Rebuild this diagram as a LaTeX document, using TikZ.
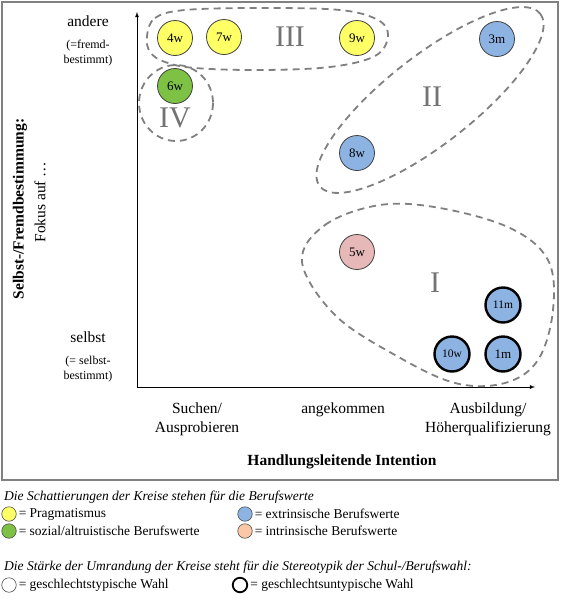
\documentclass[tikz,border=0pt]{standalone}
\usepackage{fontspec}
\setmainfont{Liberation Serif}
\usepackage{xcolor}
\usetikzlibrary{positioning}

\definecolor{pragcol}{HTML}{FFFF66}
\definecolor{sozcol}{HTML}{7DC244}
\definecolor{extcol}{HTML}{8DB3E2}
\definecolor{intcol}{HTML}{E6B9B8}
\definecolor{intlgd}{HTML}{FAC8A6}
\definecolor{grenze}{HTML}{808080}
\definecolor{roemisch}{HTML}{737373}

\begin{document}
\begin{tikzpicture}[x=1pt, y=-1pt,
  node distance=0mm,
  wert/.style={circle, draw=black!75, line width=0.8pt, minimum size=35pt, inner sep=0pt, font=\fontsize{13}{13}\selectfont},
  untyp/.style={draw=black, line width=2.4pt},
  zone/.style={draw=grenze, line width=1.8pt, dash pattern=on 7pt off 5pt},
  roman/.style={text=roemisch, font=\fontsize{30}{30}\selectfont},
  lbl/.style={font=\fontsize{15.5}{19}\selectfont, align=center},
  sublbl/.style={font=\fontsize{12}{15}\selectfont, align=center},
  lgd/.style={circle, draw=black!70, line width=0.6pt, minimum size=14.5pt, inner sep=0pt},
  ltext/.style={inner sep=1pt, font=\fontsize{13.5}{16}\selectfont}
]
\useasboundingbox (0,0) rectangle (561,600);
\draw[grenze, line width=1.5pt] (2,2) rectangle (558,480);

% Achsen
\coordinate (o) at (137,387);
\coordinate (ytop) at (137,12);
\coordinate (xend) at (535,387);
\draw[->, >=latex, line width=0.8pt] (o) -- (ytop);
\draw[->, >=latex, line width=0.8pt] (o) -- (xend);

% Bereiche
\draw[zone] plot[smooth cycle, tension=0.6] coordinates {(147,36) (155,18) (185,10) (260,8) (340,10) (378,20) (388,36) (375,56) (330,67) (260,70) (195,68) (165,62) (150,52)};
\draw[zone] (176,103) ellipse [x radius=37, y radius=38];
\draw[zone, rotate around={38:(430,100)}] (430,100) ellipse [x radius=140, y radius=44];
\draw[zone] plot[smooth cycle, tension=0.6] coordinates {(302,262) (325,225) (380,205) (440,208) (510,228) (548,260) (553,310) (538,360) (505,383) (455,383) (395,355) (335,315)};

\node[roman] (r3) at (290,37) {III};
\node[roman] (r2) at (432,97) {II};
\node[roman] (r1) at (435,283) {I};
\node[roman] (r4) at (175,118) {IV};

% Kreise
\node[wert, fill=pragcol] (w4) at (175,38) {4w};
\node[wert, fill=pragcol] (w7) at (224,37) {7w};
\node[wert, fill=pragcol] (w9) at (357,38) {9w};
\node[wert, fill=extcol] (m3) at (497,39) {3m};
\node[wert, fill=sozcol] (w6) at (175,86) {6w};
\node[wert, fill=extcol] (w8) at (357,153) {8w};
\node[wert, fill=intcol] (w5) at (357,252) {5w};
\node[wert, untyp, fill=extcol, font=\fontsize{11.5}{11.5}\selectfont] (m11) at (503,305) {11m};
\node[wert, untyp, fill=extcol, font=\fontsize{11.5}{11.5}\selectfont] (w10) at (452,354) {10w};
\node[wert, untyp, fill=extcol] (m1) at (503,354) {1m};

% Achsenbeschriftung
\node[lbl] (andere) at (88,21) {andere};
\node[sublbl] (fremd) at (88,53) {(=fremd-\\bestimmt)};
\node[lbl] (selbst) at (88,337) {selbst};
\node[sublbl] (sbst) at (88,369) {(= selbst-\\bestimmt)};
\node[lbl, rotate=90, font=\fontsize{15.5}{19}\selectfont\bfseries] (ytitle) at (20,209) {Selbst-/Fremdbestimmung:};
\node[lbl, rotate=90] (fokus) at (40,202) {Fokus auf \ldots};

\node[lbl] (suchen) at (197,419) {Suchen/\\Ausprobieren};
\node[lbl] (angek) at (343,410) {angekommen};
\node[lbl] (ausb) at (488,419) {Ausbildung/\\Höherqualifizierung};
\node[lbl, font=\fontsize{15.5}{19}\selectfont\bfseries] (xtitle) at (342,462) {Handlungsleitende Intention};

% Legende
\node[ltext, anchor=west, font=\fontsize{13.5}{16}\selectfont\itshape] (leg1) at (3,497) {Die Schattierungen der Kreise stehen für die Berufswerte};
\node[lgd, fill=pragcol] (c1) at (9,514) {};
\node[ltext, right=1pt of c1] (t1) {= Pragmatismus};
\node[lgd, fill=sozcol] (c2) at (9,531) {};
\node[ltext, right=1pt of c2] (t2) {= sozial/altruistische Berufswerte};
\node[lgd, fill=extcol] (c3) at (245,514) {};
\node[ltext, right=1pt of c3] (t3) {= extrinsische Berufswerte};
\node[lgd, fill=intlgd] (c4) at (245,531) {};
\node[ltext, right=1pt of c4] (t4) {= intrinsische Berufswerte};

\node[ltext, anchor=west, font=\fontsize{13.5}{16}\selectfont\itshape] (leg2) at (3,567) {Die Stärke der Umrandung der Kreise steht für die Stereotypik der Schul-/Berufswahl:};
\node[lgd, fill=white] (c5) at (9,585) {};
\node[ltext, right=1pt of c5] (t5) {= geschlechtstypische Wahl};
\node[lgd, draw=black, line width=1.8pt, fill=white] (c6) at (240,585) {};
\node[ltext, right=1pt of c6] (t6) {= geschlechtsuntypische Wahl};
\end{tikzpicture}
\end{document}
